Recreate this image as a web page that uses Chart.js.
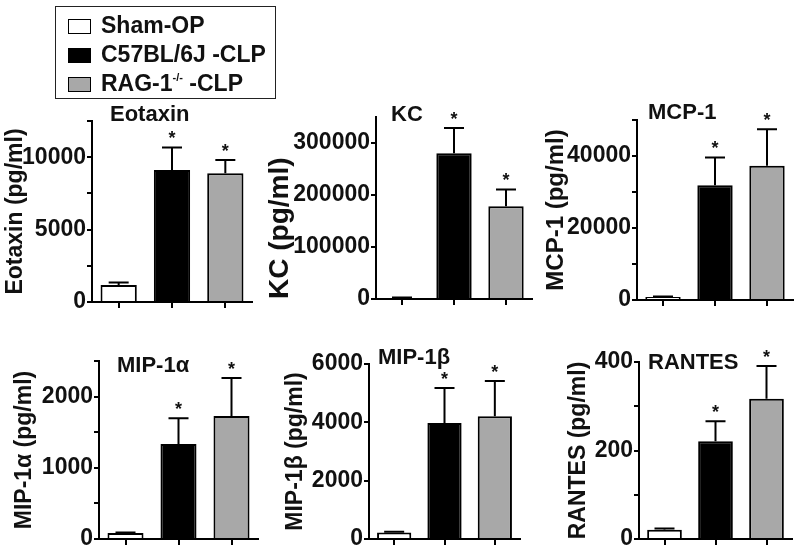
<!DOCTYPE html>
<html>
<head>
<meta charset="utf-8">
<script src="https://cdn.jsdelivr.net/npm/chart.js@4.4.1/dist/chart.umd.min.js"></script>
<style>
  body { margin: 0; background: #fff; width: 800px; height: 554px; position: relative; overflow: hidden;
         font-family: "Liberation Sans", Arial, Helvetica, sans-serif; }
  canvas { position: absolute; }
  #legend { position: absolute; left: 55px; top: 6px; width: 219px; height: 91px; border: 1.5px solid #222;
            z-index: 2; font-weight: bold; font-size: 23px; color: #111; }
  .row { position: absolute; left: 12px; height: 29px; line-height: 29px; white-space: nowrap; }
  .sw { display: inline-block; width: 21px; height: 13px; border: 1.5px solid #000; margin-right: 10px; vertical-align: -1px; }
  sup { font-size: 11px; vertical-align: 10px; line-height: 0; }
</style>
</head>
<body>
<div id="legend"></div>
<script>
// groups and colours
const groups = ['Sham-OP', 'C57BL/6J -CLP', 'RAG-1-/- -CLP'];
const groupColors = ['#ffffff', '#000000', '#a8a8a8'];
const significant = [false, true, true];

// means and upper error (SEM), pg/ml
const eotaxinMean = [1180, 9120, 8890];
const eotaxinErr  = [160, 1550, 920];
const kcMean = [2000, 280500, 178500];
const kcErr  = [800, 48300, 32300];
const mcp1Mean = [800, 31900, 37300];
const mcp1Err  = [150, 7700, 10100];
const mip1aMean = [84, 1333, 1729];
const mip1aErr  = [8, 364, 531];
const mip1bMean = [220, 3980, 4210];
const mip1bErr  = [25, 1200, 1210];
const rantesMean = [21, 221, 317];
const rantesErr  = [3, 45, 74];

// y axes: top of axis and labelled step (minor ticks at half steps)
const yMaxes = [12500, 350000, 50000, 2500, 6000, 400];
const yMajor = [5000, 100000, 20000, 1000, 2000, 200];

const titles  = ['Eotaxin', 'KC', 'MCP-1', 'MIP-1α', 'MIP-1β', 'RANTES'];
const yLabels = ['Eotaxin (pg/ml)', 'KC (pg/ml)', 'MCP-1 (pg/ml)', 'MIP-1α (pg/ml)', 'MIP-1β (pg/ml)', 'RANTES (pg/ml)'];
const means = [eotaxinMean, kcMean, mcp1Mean, mip1aMean, mip1bMean, rantesMean];
const errs  = [eotaxinErr, kcErr, mcp1Err, mip1aErr, mip1bErr, rantesErr];

// layout of each panel on the page (pixels)
const boxes = [
  {axisX: 92,  top: 121, zero: 302, right: 252, labelX: 16,  labelSize: 23, labelAlign: 'center', titleX: 110, titleY: 115},
  {axisX: 376, top: 117, zero: 299, right: 532, labelX: 280, labelSize: 28, labelAlign: 'start',  titleX: 391, titleY: 115},
  {axisX: 637, top: 120, zero: 300, right: 793, labelX: 556, labelSize: 24, labelAlign: 'center', titleX: 648, titleY: 113},
  {axisX: 99,  top: 361, zero: 539, right: 258, labelX: 25,  labelSize: 23, labelAlign: 'center', titleX: 117, titleY: 366},
  {axisX: 369, top: 364, zero: 539, right: 520, labelX: 296, labelSize: 23, labelAlign: 'center', titleX: 378, titleY: 358},
  {axisX: 639, top: 362, zero: 539, right: 792, labelX: 579, labelSize: 23, labelAlign: 'center', titleX: 648, titleY: 363}
];

const FONT = '"Liberation Sans", Arial, Helvetica, sans-serif';

// legend
const legend = document.getElementById('legend');
groups.forEach((g, i) => {
  const row = document.createElement('div');
  row.className = 'row';
  row.style.top = (4 + i * 29) + 'px';
  const txt = g.replace('-/-', '<sup>-/-</sup>');
  row.innerHTML = '<span class="sw" style="background:' + groupColors[i] + '"></span>' + txt;
  legend.appendChild(row);
});

// error bars, asterisks and panel title
const decorations = {
  id: 'decorations',
  afterDatasetsDraw(chart, args, opts) {
    const {ctx} = chart;
    const y = chart.scales.y;
    const meta = chart.getDatasetMeta(0);
    const data = chart.data.datasets[0].data;
    ctx.save();
    ctx.strokeStyle = '#000';
    ctx.fillStyle = '#111';
    ctx.lineWidth = 2;
    meta.data.forEach((bar, i) => {
      const yBar = y.getPixelForValue(data[i]);
      const yTop = y.getPixelForValue(data[i] + opts.errors[i]);
      ctx.beginPath();
      ctx.moveTo(bar.x, yBar);
      ctx.lineTo(bar.x, yTop);
      ctx.moveTo(bar.x - 10, yTop);
      ctx.lineTo(bar.x + 10, yTop);
      ctx.stroke();
      if (significant[i]) {
        ctx.font = 'bold 18px ' + FONT;
        ctx.textAlign = 'center';
        ctx.textBaseline = 'alphabetic';
        ctx.fillText('*', bar.x, yTop - 3);
      }
    });
    ctx.font = 'bold 22px ' + FONT;
    ctx.textAlign = 'left';
    ctx.textBaseline = 'middle';
    ctx.fillText(opts.title, opts.titleX, opts.titleY);
    ctx.restore();
  }
};

const PAD_TOP = 30, X_H = 12, PAD_BOTTOM = 4, PAD_RIGHT = 4;

boxes.forEach((b, k) => {
  const lh = b.labelSize * 1.2;
  const left = Math.round(b.labelX - lh / 2);
  const yW = b.axisX - left;
  const w = b.right - left + PAD_RIGHT;
  const h = PAD_TOP + (b.zero - b.top) + X_H + PAD_BOTTOM;
  const topPx = b.top - PAD_TOP;

  const canvas = document.createElement('canvas');
  canvas.width = w;
  canvas.height = h;
  canvas.style.left = left + 'px';
  canvas.style.top = topPx + 'px';
  document.body.appendChild(canvas);

  const major = yMajor[k];

  new Chart(canvas, {
    type: 'bar',
    data: {
      labels: groups,
      datasets: [{
        data: means[k],
        backgroundColor: groupColors,
        borderColor: '#000',
        borderWidth: 2,
        barPercentage: 0.68,
        categoryPercentage: 1.0
      }]
    },
    options: {
      responsive: false,
      animation: false,
      devicePixelRatio: 1,
      layout: { padding: { top: PAD_TOP, right: PAD_RIGHT, bottom: PAD_BOTTOM, left: 0 } },
      plugins: {
        legend: { display: false },
        tooltip: { enabled: false },
        decorations: {
          errors: errs[k],
          title: titles[k],
          titleX: b.titleX - left,
          titleY: b.titleY - topPx
        }
      },
      scales: {
        x: {
          afterFit: (s) => { s.height = X_H; },
          border: { color: '#000', width: 2 },
          grid: { drawOnChartArea: false, offset: false, color: '#000', lineWidth: 2, tickLength: 6 },
          ticks: { callback: () => '', padding: 0 }
        },
        y: {
          min: 0,
          max: yMaxes[k],
          afterFit: (s) => { s.width = yW; },
          border: { color: '#000', width: 2 },
          grid: { drawOnChartArea: false, color: '#000', lineWidth: 2, tickLength: 5 },
          ticks: {
            stepSize: major / 2,
            padding: 1,
            color: '#111',
            font: { family: FONT, size: 23, weight: 'bold' },
            callback: (v) => (v % major === 0 ? String(v) : '')
          },
          title: {
            display: true,
            text: yLabels[k],
            align: b.labelAlign,
            color: '#111',
            padding: 0,
            font: { family: FONT, size: b.labelSize, weight: 'bold' }
          }
        }
      }
    },
    plugins: [decorations]
  });
});
</script>
</body>
</html>
